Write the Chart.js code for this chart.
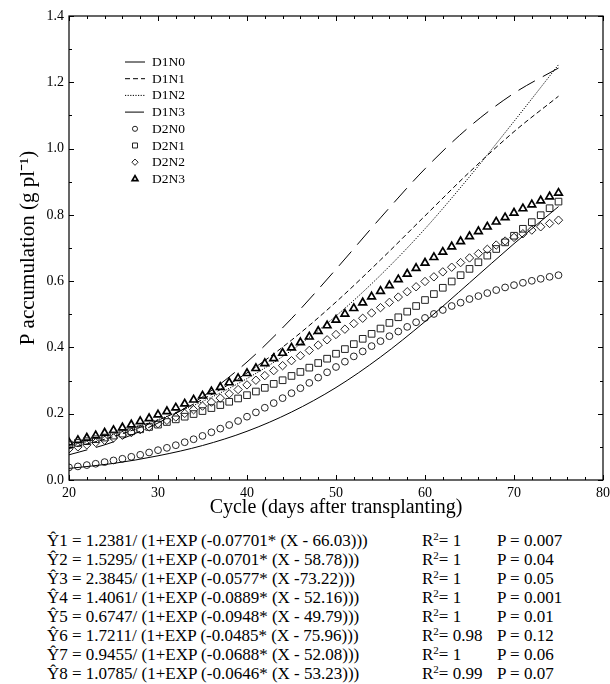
<!DOCTYPE html>
<html>
<head>
<meta charset="utf-8">
<title>P accumulation</title>
<script src="https://cdn.jsdelivr.net/npm/chart.js@4.4.1/dist/chart.umd.min.js"></script>
<style>
  body {
    margin: 0;
    background: #fff;
    width: 610px;
    height: 684px;
    position: relative;
    overflow: hidden;
    font-family: "Liberation Serif", "Times New Roman", serif;
    color: #000;
  }
  #chart-wrap { position: absolute; left: 0; top: 0; width: 610px; height: 530px; }
  #equations { position: absolute; left: 0; top: 531px; width: 610px; font-size: 17px; line-height: 19px; }
  .eq-row { position: relative; height: 19px; white-space: nowrap; }
  .eq-row span { position: absolute; top: 0; }
  .c1 { left: 47px; }
  .c2 { left: 422px; }
  .c3 { left: 497px; }
  sup { font-size: 11px; line-height: 0; vertical-align: 6px; }
</style>
</head>
<body>
<div id="chart-wrap"><canvas id="p-chart" width="610" height="530"></canvas></div>
<div id="equations"></div>

<script>
// ====== DATA ======
const LINE_DAYS = [20, 25, 30, 35, 40, 45, 50, 55, 60, 65, 70, 75];

const D1N0 = [0.035, 0.050, 0.073, 0.104, 0.147, 0.205, 0.279, 0.371, 0.478, 0.595, 0.713, 0.825];
const D1N1 = [0.095, 0.131, 0.180, 0.243, 0.323, 0.422, 0.537, 0.664, 0.797, 0.929, 1.051, 1.158];
const D1N2 = [0.106, 0.139, 0.182, 0.237, 0.306, 0.391, 0.495, 0.618, 0.758, 0.915, 1.082, 1.253];
const D1N3 = [0.076, 0.115, 0.172, 0.251, 0.356, 0.487, 0.636, 0.791, 0.939, 1.066, 1.167, 1.243];

const MARKER_DAYS = [
  20, 21, 22, 23, 24, 25, 26, 27, 28, 29,
  30, 31, 32, 33, 34, 35, 36, 37, 38, 39,
  40, 41, 42, 43, 44, 45, 46, 47, 48, 49,
  50, 51, 52, 53, 54, 55, 56, 57, 58, 59,
  60, 61, 62, 63, 64, 65, 66, 67, 68, 69,
  70, 71, 72, 73, 74, 75
];

const D2N0 = [
  0.038, 0.041, 0.045, 0.049, 0.054, 0.059, 0.064, 0.070, 0.076, 0.083,
  0.090, 0.097, 0.105, 0.114, 0.123, 0.133, 0.144, 0.155, 0.166, 0.178,
  0.191, 0.204, 0.218, 0.232, 0.247, 0.262, 0.277, 0.293, 0.309, 0.325,
  0.341, 0.357, 0.373, 0.388, 0.404, 0.419, 0.434, 0.448, 0.462, 0.476,
  0.489, 0.501, 0.513, 0.525, 0.535, 0.546, 0.555, 0.564, 0.573, 0.581,
  0.588, 0.595, 0.601, 0.607, 0.613, 0.618
];
const D2N1 = [
  0.107, 0.112, 0.117, 0.123, 0.128, 0.134, 0.140, 0.147, 0.153, 0.160,
  0.167, 0.175, 0.183, 0.191, 0.199, 0.208, 0.217, 0.226, 0.236, 0.246,
  0.256, 0.267, 0.278, 0.290, 0.301, 0.314, 0.326, 0.339, 0.353, 0.366,
  0.381, 0.395, 0.410, 0.426, 0.441, 0.457, 0.474, 0.491, 0.508, 0.525,
  0.543, 0.561, 0.580, 0.599, 0.618, 0.637, 0.657, 0.677, 0.697, 0.717,
  0.737, 0.758, 0.778, 0.799, 0.820, 0.840
];
const D2N2 = [
  0.094, 0.100, 0.106, 0.113, 0.120, 0.127, 0.135, 0.143, 0.152, 0.160,
  0.170, 0.180, 0.190, 0.201, 0.212, 0.223, 0.235, 0.247, 0.260, 0.273,
  0.287, 0.301, 0.315, 0.330, 0.345, 0.360, 0.375, 0.391, 0.407, 0.423,
  0.439, 0.455, 0.472, 0.488, 0.504, 0.520, 0.536, 0.552, 0.568, 0.583,
  0.599, 0.613, 0.628, 0.642, 0.656, 0.670, 0.683, 0.696, 0.709, 0.721,
  0.732, 0.743, 0.754, 0.764, 0.774, 0.784
];
const D2N3 = [
  0.113, 0.120, 0.127, 0.134, 0.142, 0.150, 0.158, 0.167, 0.177, 0.186,
  0.197, 0.207, 0.218, 0.230, 0.242, 0.254, 0.267, 0.280, 0.294, 0.307,
  0.322, 0.337, 0.352, 0.367, 0.383, 0.399, 0.415, 0.432, 0.449, 0.466,
  0.483, 0.501, 0.518, 0.535, 0.553, 0.570, 0.587, 0.605, 0.622, 0.639,
  0.655, 0.672, 0.688, 0.704, 0.720, 0.735, 0.750, 0.764, 0.779, 0.792,
  0.806, 0.819, 0.831, 0.843, 0.855, 0.866
];

const EQUATIONS = [
  'Ŷ1 = 1.2381/ (1+EXP (-0.07701* (X - 66.03)))',
  'Ŷ2 = 1.5295/ (1+EXP (-0.0701* (X - 58.78)))',
  'Ŷ3 = 2.3845/ (1+EXP (-0.0577* (X -73.22)))',
  'Ŷ4 = 1.4061/ (1+EXP (-0.0889* (X - 52.16)))',
  'Ŷ5 = 0.6747/ (1+EXP (-0.0948* (X - 49.79)))',
  'Ŷ6 = 1.7211/ (1+EXP (-0.0485* (X - 75.96)))',
  'Ŷ7 = 0.9455/ (1+EXP (-0.0688* (X - 52.08)))',
  'Ŷ8 = 1.0785/ (1+EXP (-0.0646* (X - 53.23)))'
];
const R2_VALUES = ['1', '1', '1', '1', '1', '0.98', '1', '0.99'];
const P_VALUES = ['0.007', '0.04', '0.05', '0.001', '0.01', '0.12', '0.06', '0.07'];

const FONT = '"Liberation Serif", "Times New Roman", serif';

// ====== HELPERS ======
function toPoints(xs, ys) {
  return xs.map((x, i) => ({ x: x, y: ys[i] }));
}

function lineSet(label, ys, dash) {
  return {
    label: label,
    data: toPoints(LINE_DAYS, ys),
    showLine: true,
    borderColor: '#000',
    borderWidth: 1,
    borderDash: dash,
    pointRadius: 0,
    cubicInterpolationMode: 'monotone',
    fill: false
  };
}

function markerSet(label, ys, style, radius, width, color) {
  return {
    label: label,
    data: toPoints(MARKER_DAYS, ys),
    showLine: false,
    pointStyle: style,
    pointRadius: radius,
    pointBorderWidth: width,
    pointBorderColor: color,
    pointBackgroundColor: 'rgba(255,255,255,0)',
    borderColor: color,
    backgroundColor: 'rgba(255,255,255,0)'
  };
}

// ====== FRAME + INWARD TICKS ======
const frameTicks = {
  id: 'frameTicks',
  afterDraw(chart) {
    const { ctx, chartArea: a, scales: { x, y } } = chart;
    ctx.save();
    ctx.strokeStyle = '#000';
    ctx.lineWidth = 1.2;
    ctx.strokeRect(a.left, a.top, a.right - a.left, a.bottom - a.top);

    ctx.lineWidth = 1;
    ctx.beginPath();
    for (let v = x.min; v <= x.max; v += 2) {
      const px = Math.round(x.getPixelForValue(v)) + 0.5;
      const len = v % 10 === 0 ? 5 : 3;
      ctx.moveTo(px, a.bottom); ctx.lineTo(px, a.bottom - len);
      ctx.moveTo(px, a.top); ctx.lineTo(px, a.top + len);
    }
    for (let i = 0; i <= 14; i++) {
      const py = Math.round(y.getPixelForValue(i / 10)) + 0.5;
      const len = i % 2 === 0 ? 5 : 3;
      ctx.moveTo(a.left, py); ctx.lineTo(a.left + len, py);
      ctx.moveTo(a.right, py); ctx.lineTo(a.right - len, py);
    }
    ctx.stroke();
    ctx.restore();
  }
};

// ====== LEGEND (inside plot) ======
const innerLegend = {
  id: 'innerLegend',
  afterDraw(chart) {
    const { ctx, chartArea: a } = chart;
    ctx.save();
    ctx.font = '13.5px ' + FONT;
    ctx.textBaseline = 'middle';
    ctx.fillStyle = '#000';
    chart.data.datasets.forEach((ds, i) => {
      const yy = a.top + 46 + i * 16.7;
      const x0 = a.left + 56;
      if (ds.showLine) {
        ctx.strokeStyle = '#000';
        ctx.lineWidth = 1;
        ctx.setLineDash(ds.borderDash || []);
        ctx.beginPath();
        ctx.moveTo(x0, yy);
        ctx.lineTo(x0 + 20, yy);
        ctx.stroke();
        ctx.setLineDash([]);
      } else {
        ctx.strokeStyle = ds.pointBorderColor;
        ctx.fillStyle = 'rgba(255,255,255,0)';
        ctx.lineWidth = ds.pointBorderWidth;
        Chart.helpers.drawPoint(ctx, {
          pointStyle: ds.pointStyle,
          radius: ds.pointRadius * 0.75,
          rotation: 0,
          borderWidth: ds.pointBorderWidth
        }, x0 + 10, yy);
        ctx.fillStyle = '#000';
      }
      ctx.fillText(ds.label, x0 + 27, yy + 0.5);
    });
    ctx.restore();
  }
};

// ====== INIT CHART ======
function initChart() {
  const ctx = document.getElementById('p-chart');
  new Chart(ctx, {
    type: 'line',
    data: {
      datasets: [
        lineSet('D1N0', D1N0, []),
        lineSet('D1N1', D1N1, [5, 3]),
        lineSet('D1N2', D1N2, [1.2, 1.4]),
        lineSet('D1N3', D1N3, [19, 9]),
        markerSet('D2N0', D2N0, 'circle', 3.4, 1, '#222'),
        markerSet('D2N1', D2N1, 'rect', 4.7, 1, '#222'),
        markerSet('D2N2', D2N2, 'rectRot', 4.2, 1, '#222'),
        markerSet('D2N3', D2N3, 'triangle', 4.4, 1.7, '#000')
      ]
    },
    options: {
      responsive: false,
      animation: false,
      devicePixelRatio: 1,
      layout: { padding: { left: 0, top: 16, right: 7, bottom: 0 } },
      plugins: {
        legend: { display: false },
        tooltip: { enabled: false }
      },
      scales: {
        x: {
          type: 'linear',
          min: 20,
          max: 80,
          ticks: { stepSize: 10, color: '#000', font: { family: FONT, size: 14 }, padding: 5 },
          grid: { display: false, drawTicks: false },
          border: { display: false },
          title: {
            display: true,
            text: 'Cycle (days after transplanting)',
            color: '#000',
            font: { family: FONT, size: 20 },
            padding: { top: 0, bottom: 10 }
          },
          afterFit: s => { s.height = 50; s.paddingLeft = 0; s.paddingRight = 0; }
        },
        y: {
          type: 'linear',
          min: 0,
          max: 1.4,
          ticks: {
            stepSize: 0.2,
            color: '#000',
            font: { family: FONT, size: 14 },
            padding: 5,
            callback: v => v.toFixed(1)
          },
          grid: { display: false, drawTicks: false },
          border: { display: false },
          title: {
            display: true,
            text: 'P accumulation (g pl\u207B\u00B9)',
            color: '#000',
            font: { family: FONT, size: 21 },
            padding: { top: 16, bottom: 0 }
          },
          afterFit: s => { s.width = 69; s.paddingTop = 0; s.paddingBottom = 0; }
        }
      }
    },
    plugins: [frameTicks, innerLegend]
  });
}

// ====== EQUATIONS ======
function buildEquations() {
  const box = document.getElementById('equations');
  EQUATIONS.forEach((eq, i) => {
    const row = document.createElement('div');
    row.className = 'eq-row';
    row.innerHTML =
      '<span class="c1">' + eq + '</span>' +
      '<span class="c2">R<sup>2</sup>= ' + R2_VALUES[i] + '</span>' +
      '<span class="c3">P = ' + P_VALUES[i] + '</span>';
    box.appendChild(row);
  });
}

initChart();
buildEquations();
</script>
</body>
</html>
